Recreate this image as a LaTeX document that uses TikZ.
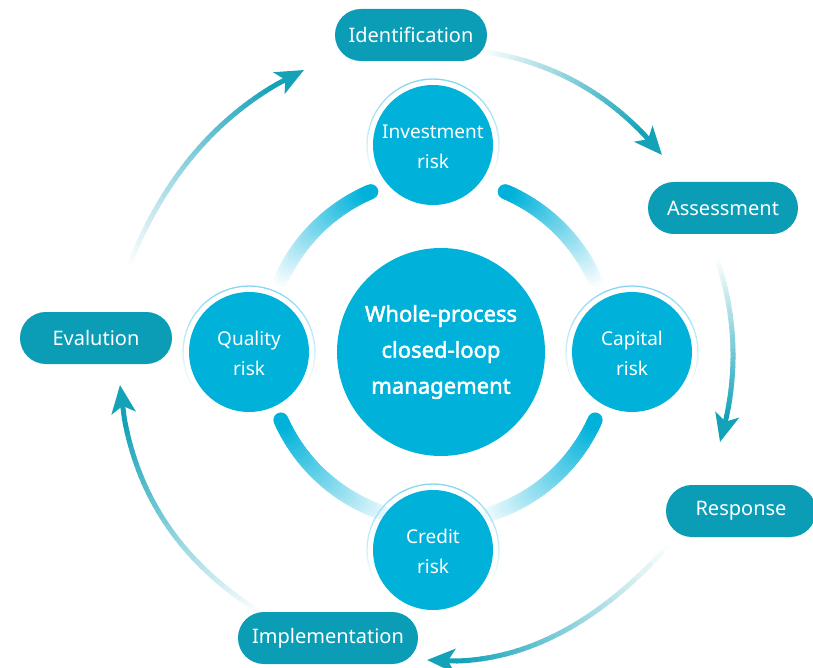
\documentclass[tikz,border=0pt]{standalone}
\usepackage{fontspec}
\setmainfont{Noto Sans}[AutoFakeBold=2.2]
\usetikzlibrary{calc,arrows.meta}
\definecolor{ccyan}{HTML}{00B2DA}
\definecolor{cteal}{HTML}{0B9DB5}
\definecolor{carr}{HTML}{14A2B8}
\definecolor{cring}{HTML}{3FC0E6}
\begin{document}
\begin{tikzpicture}[x=1pt,y=-1pt,
  pill/.style={rounded corners=25.9pt, fill=cteal, text=white, minimum height=52pt, inner sep=0pt, font=\fontsize{20}{24}\selectfont},
  riskc/.style={circle, fill=ccyan, text=white, minimum size=120pt, inner sep=0pt, align=center, font=\fontsize{19}{30}\selectfont},
  corec/.style={circle, fill=ccyan, text=white, minimum size=208pt, inner sep=0pt, align=center, font=\bfseries\fontsize{22}{36}\selectfont},
  seg/.style={line cap=round},
  tipstyle/.style={line width=5pt, carr, -{Stealth[length=28pt,width=24pt,inset=7pt]}}
]
\useasboundingbox (0,0) rectangle (813,668);
\coordinate (C) at (438,350);

% thick gradient arcs between the risk circles
\foreach \d/\f in {247/204, 293/336, 24/74, 156/106}{
  \foreach \i in {0,...,40}{
    \pgfmathsetmacro\aa{\f+(\d-\f)*\i/41}
    \pgfmathsetmacro\ab{\f+(\d-\f)*(\i+1)/41}
    \pgfmathtruncatemacro\k{100*(\i+1)/41}
    \draw[seg, line width=15pt, ccyan!\k!white] ($(C)+(\aa:172)$) -- ($(C)+(\ab:172)$);
  }
}

% pills
\node[pill, minimum width=152pt] (id) at (411,35) {Identification};
\node[pill, minimum width=150pt] (as) at (723,208) {Assessment};
\node[pill, minimum width=150pt] (re) at (741,511) {Response};
\node[pill, minimum width=180pt] (im) at (328,638) {Implementation};
\node[pill, minimum width=152pt] (ev) at (96,338) {Evalution};

% circles
\node[corec] (core) at (441,352) {Whole-process\\closed-loop\\management};
\node[riskc] (inv) at (433,145) {\rule{0pt}{17pt}Investment\\risk};
\node[riskc] (cap) at (632,352) {\rule{0pt}{17pt}Capital\\risk};
\node[riskc] (qua) at (249,352) {\rule{0pt}{17pt}Quality\\risk};
\node[riskc] (cre) at (433,550) {\rule{0pt}{17pt}Credit\\risk};

% thin fading rings
\foreach \n in {inv,cap,qua,cre}{
  \foreach \a in {0,6,...,354}{
    \pgfmathsetmacro\b{\a+6}
    \pgfmathtruncatemacro\k{max(0,min(100,25-40*sin(\a+3)))}
    \draw[line width=1.3pt, cring!\k!white] ($(\n.center)+(\a:66)$) -- ($(\n.center)+(\b:66)$);
  }
}

% outer arrows
\coordinate (s1) at (486,52);  \coordinate (m1) at (583,86);  \coordinate (e1) at (662,155);
\coordinate (s2) at (718,262); \coordinate (m2) at (733,352); \coordinate (e2) at (720,442);
\coordinate (s3) at (667,547); \coordinate (m3) at (550,638); \coordinate (e3) at (427,660);
\coordinate (s4) at (257,610); \coordinate (m4) at (160,514); \coordinate (e4) at (120,385);
\coordinate (s5) at (130,263); \coordinate (m5) at (201,146); \coordinate (e5) at (304,70);
\foreach \j in {1,...,5}{
  \coordinate (c\j) at ($ ($(s\j)!.5!(e\j)$)!2!(m\j) $);
}
\foreach \j in {1,...,5}{
  \foreach \i in {0,...,35}{
    \pgfmathsetmacro\ta{0.88*\i/36}
    \pgfmathsetmacro\tb{0.88*(\i+1)/36}
    \pgfmathtruncatemacro\k{100*(\i+1)/36}
    \draw[seg, line width=5pt, carr!\k!white]
      ($ ($(s\j)!\ta!(c\j)$)!\ta!($(c\j)!\ta!(e\j)$) $) --
      ($ ($(s\j)!\tb!(c\j)$)!\tb!($(c\j)!\tb!(e\j)$) $);
  }
  \draw[tipstyle] ($ ($(s\j)!0.88!(c\j)$)!0.88!($(c\j)!0.88!(e\j)$) $) -- (e\j);
}
\end{tikzpicture}
\end{document}
